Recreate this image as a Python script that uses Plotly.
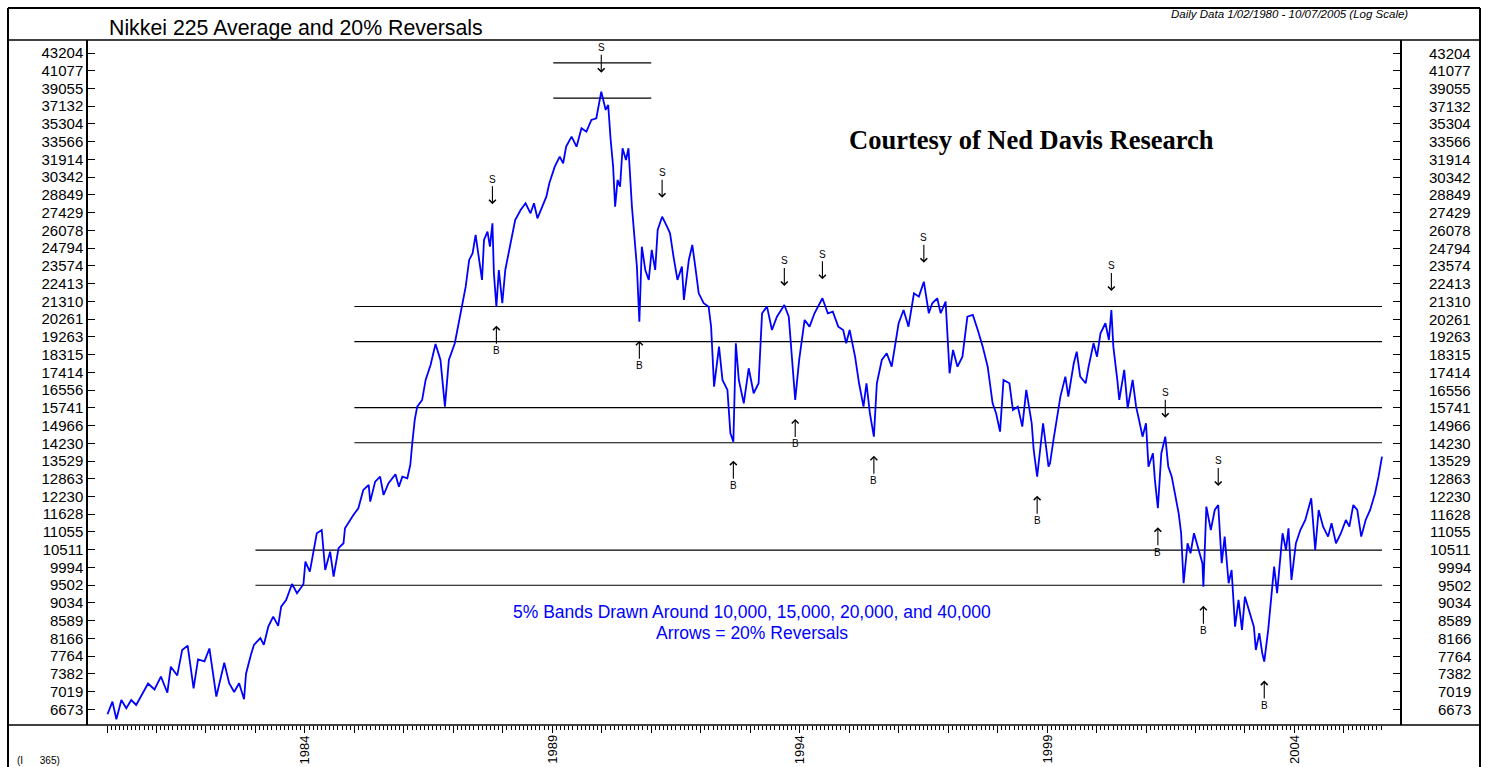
import math
import plotly.graph_objects as go

W, H = 1488, 767

# ---------------- data ----------------
years = [
    1980.01, 1980.11, 1980.19, 1980.29, 1980.39, 1980.49, 1980.59, 1980.73, 1980.83, 1980.96,
    1981.09, 1981.22, 1981.29, 1981.42, 1981.52, 1981.63, 1981.75, 1981.84, 1981.97,
    1982.07, 1982.21, 1982.37, 1982.47, 1982.57, 1982.67, 1982.77, 1982.81, 1982.91, 1982.97,
    1983.10, 1983.17, 1983.26, 1983.36, 1983.46, 1983.52, 1983.62, 1983.74, 1983.84, 1983.97,
    1984.01, 1984.10, 1984.24, 1984.34, 1984.41, 1984.51, 1984.58, 1984.68, 1984.78, 1984.81, 1984.98,
    1985.08, 1985.18, 1985.29, 1985.32, 1985.42, 1985.52, 1985.59, 1985.69, 1985.83, 1985.90, 1985.97,
    1986.07, 1986.13, 1986.17, 1986.22, 1986.27, 1986.37, 1986.44, 1986.54, 1986.64, 1986.74, 1986.83, 1986.91,
    1987.03, 1987.11, 1987.18, 1987.25, 1987.32, 1987.39, 1987.45, 1987.52, 1987.58, 1987.62, 1987.69,
    1987.74, 1987.79, 1987.82, 1987.87, 1987.92, 1987.99,
    1988.05, 1988.12, 1988.19, 1988.25, 1988.36, 1988.46, 1988.56, 1988.63, 1988.70, 1988.80, 1988.88, 1988.94,
    1989.05, 1989.15, 1989.22, 1989.28, 1989.39, 1989.49, 1989.59, 1989.69, 1989.79, 1989.89, 1989.95, 1989.99,
    1990.08, 1990.13, 1990.18, 1990.23, 1990.27, 1990.32, 1990.37, 1990.42, 1990.49, 1990.54, 1990.61,
    1990.65, 1990.71, 1990.76, 1990.81, 1990.88, 1990.95,
    1991.01, 1991.08, 1991.13, 1991.22, 1991.32, 1991.38, 1991.45, 1991.53, 1991.62, 1991.66, 1991.76,
    1991.83, 1991.89, 1991.96,
    1992.06, 1992.16, 1992.21, 1992.27, 1992.37, 1992.44, 1992.54, 1992.60, 1992.66, 1992.71, 1992.77,
    1992.87, 1992.97,
    1993.07, 1993.17, 1993.24, 1993.34, 1993.44, 1993.54, 1993.69, 1993.78, 1993.84, 1993.91, 1993.99,
    1994.10, 1994.20, 1994.30, 1994.46, 1994.57, 1994.67, 1994.78, 1994.88, 1994.94,
    1995.01, 1995.12, 1995.20, 1995.29, 1995.35, 1995.42, 1995.50, 1995.56, 1995.66, 1995.76, 1995.86, 1995.93,
    1996.00, 1996.10, 1996.20, 1996.31, 1996.41, 1996.51, 1996.61, 1996.68, 1996.78, 1996.85, 1996.95,
    1997.03, 1997.10, 1997.19, 1997.29, 1997.39, 1997.50, 1997.60, 1997.70, 1997.80, 1997.90, 1997.97,
    1998.05, 1998.12, 1998.24, 1998.31, 1998.41, 1998.50, 1998.58, 1998.69, 1998.73, 1998.80, 1998.92,
    1999.03, 1999.06, 1999.13, 1999.23, 1999.27, 1999.37, 1999.43, 1999.54, 1999.60, 1999.67, 1999.78,
    1999.84, 1999.94,
    2000.01, 2000.08, 2000.18, 2000.25, 2000.30, 2000.34, 2000.42, 2000.46, 2000.56, 2000.63, 2000.73,
    2000.80, 2000.86, 2000.93,
    2001.00, 2001.05, 2001.14, 2001.18, 2001.24, 2001.31, 2001.39, 2001.45, 2001.52, 2001.59, 2001.66,
    2001.71, 2001.76, 2001.84, 2001.90, 2001.97,
    2002.05, 2002.14, 2002.16, 2002.22, 2002.31, 2002.39, 2002.46, 2002.53, 2002.59, 2002.67, 2002.73,
    2002.80, 2002.87, 2002.94,
    2003.00, 2003.11, 2003.18, 2003.22, 2003.29, 2003.35, 2003.39, 2003.47, 2003.52, 2003.59, 2003.65,
    2003.76, 2003.83, 2003.88, 2003.94,
    2004.03, 2004.12, 2004.22, 2004.34, 2004.42, 2004.49, 2004.58, 2004.68, 2004.75, 2004.84, 2004.94,
    2005.04, 2005.11, 2005.19, 2005.27, 2005.35, 2005.44, 2005.53, 2005.63, 2005.70, 2005.77,
]

nikkei = [
    6580, 6821, 6488, 6853, 6694, 6853, 6757, 6996, 7182, 7062,
    7324, 6996, 7535, 7349, 7902, 8000, 7082, 7692, 7650,
    7935, 6920, 7619, 7188, 7012, 7188, 6868, 7384, 7800, 8017,
    8173, 8017, 8443, 8688, 8461, 8939, 9110, 9535, 9286, 9527,
    10159, 9875, 11015, 11117, 9922, 10453, 9735, 10555, 10706, 11172, 11604,
    11827, 12459, 12637, 12051, 12757, 12940, 12282, 12699, 13029, 12577, 12940,
    12880, 13377, 14231, 15205, 15792, 16096, 17039, 17782, 18876, 18036, 15792, 18036,
    18914, 20022, 21195, 22221, 23974, 24436, 25741, 24200, 22649, 25377, 25984,
    24898, 26614, 23084, 20991, 23301, 21195,
    23301, 24436, 25618, 26860, 27636, 28169, 27378, 28169, 26990, 27898, 28706, 29823,
    31265, 32168, 31569, 33096, 34053, 33096, 34876, 34539, 35709, 35881, 37618, 38703,
    36738, 37265, 33733, 31265, 27898, 30104, 29535, 32944, 31864, 32944, 27898,
    25867, 23521, 20113, 24898, 23301, 22649,
    24667, 23301, 26111, 27115, 26356, 25867, 24200, 22649, 23521, 21394, 23974,
    25022, 23521, 21805,
    21195, 20991, 19830, 16717, 18733, 17039, 16560, 14641, 14295, 18914, 17039,
    15945, 17615,
    16405, 16879, 20600, 20991, 19643, 20401, 21092, 20401, 18383, 16096, 18036,
    20210, 19830, 20600, 21498, 20600, 20694, 19830, 19643, 18914,
    19643, 18207, 16879, 15792, 16879, 15497, 14499, 16879, 18036, 18383, 17695, 18914,
    20022, 20794, 19830, 21805, 21597, 22536, 20600, 21195, 21498, 20600, 21291,
    17367, 18557, 17695, 18207, 20401, 20501, 19643, 18733, 17695, 15945, 15497,
    14708, 17039, 16879, 15644, 15792, 14919, 16560, 15064, 13961, 12940, 15064,
    13314, 13442, 14364, 15644, 16248, 17200, 16248, 17868, 18467, 17200, 16879,
    17695, 18914,
    18207, 19461, 20022, 19092, 20794, 18733, 17039, 16096, 17531, 15720, 17039,
    15792, 15205, 14499,
    15064, 13314, 13831, 12820, 11827, 13831, 14499, 13314, 12940, 12343, 11660,
    11015, 9554, 10706, 10405, 11015,
    10602, 10114, 9461, 11881, 11117, 11769, 11938, 10114, 10909, 9554, 9922,
    8443, 9110, 8365,
    9196, 8688, 8443, 7902, 8287, 7828, 7644, 8365, 9110, 10016, 9286,
    11015, 10503, 11172, 9644,
    10706, 11117, 11440, 12168, 10503, 11769, 11223, 10909, 11332, 10706, 11015,
    11440, 11223, 11938, 11769, 10909, 11440, 11769, 12343, 12940, 13698,
]

tick_values = [43204, 41077, 39055, 37132, 35304, 33566, 31914, 30342, 28849, 27429,
               26078, 24794, 23574, 22413, 21310, 20261, 19263, 18315, 17414, 16556,
               15741, 14966, 14230, 13529, 12863, 12230, 11628, 11055, 10511, 9994,
               9502, 9034, 8589, 8166, 7764, 7382, 7019, 6673]
year_labels = [1984, 1989, 1994, 1999, 2004]

sell_dates = [1987.79, 1989.99, 1991.22, 1993.69, 1994.46, 1996.51, 2000.30, 2001.39, 2002.46]
sell_prices = [26614, 38703, 27115, 21092, 21498, 22536, 20794, 14499, 11938]
buy_dates = [1987.87, 1990.76, 1992.66, 1993.91, 1995.50, 1998.80, 2001.24, 2002.16, 2003.39]
buy_prices = [20991, 20113, 14295, 16096, 14499, 12940, 11827, 9461, 7644]

band_centers = [10000, 15000, 20000, 40000]
band_pct = 0.05
band_start = [1983.0, 1985.0, 1985.0, 1989.02]
band_end = [2005.77, 2005.77, 2005.77, 1991.0]

# ---------------- layout geometry (pixels) ----------------
PL, PR, PT, PB = 88, 1400, 40, 725          # plot frame
DX0, DX1 = 107, 1382                        # first / last data x pixel
T0, T1 = 1980.0, 2005.77
ppy = (DX1 - DX0) / (T1 - T0)
x_range = [T0 - (DX0 - PL) / ppy, T1 + (PR - DX1) / ppy]
y_range = [3.80498, 4.6516]


def px(x):
    return x / W


def py(y):
    return 1 - y / H


FONT = "Liberation Sans, Arial, sans-serif"
TICK_SIZE = 15

fig = go.Figure()

for c, s, e in zip(band_centers, band_start, band_end):
    for lvl in (c * (1 - band_pct), c * (1 + band_pct)):
        fig.add_trace(go.Scatter(x=[s, e], y=[lvl, lvl], mode="lines",
                                 line=dict(color="black", width=1.2),
                                 hoverinfo="skip", showlegend=False))

fig.add_trace(go.Scatter(x=years, y=nikkei, mode="lines",
                         line=dict(color="#0000FF", width=1.8),
                         hoverinfo="skip", showlegend=False))

annotations = []
# reversal arrows (log axis -> annotation y in log10 units)
for d, p in zip(sell_dates, sell_prices):
    annotations.append(dict(x=d, y=math.log10(p), xref="x", yref="y", text="S", showarrow=True,
                            arrowhead=4, arrowsize=1.2, arrowwidth=1.1, arrowcolor="black",
                            ax=0, ay=-44, standoff=19,
                            font=dict(family=FONT, size=10, color="black")))
for d, p in zip(buy_dates, buy_prices):
    annotations.append(dict(x=d, y=math.log10(p), xref="x", yref="y", text="B", showarrow=True,
                            arrowhead=4, arrowsize=1.2, arrowwidth=1.1, arrowcolor="black",
                            ax=0, ay=44, standoff=19,
                            font=dict(family=FONT, size=10, color="black")))

# right-hand tick labels (right aligned)
for v in tick_values:
    annotations.append(dict(x=px(1473), y=math.log10(v), xref="paper", yref="y",
                            text=str(v), showarrow=False, xanchor="right", yanchor="middle",
                            font=dict(family=FONT, size=TICK_SIZE, color="black")))

# rotated year labels
for yr in year_labels:
    annotations.append(dict(x=yr, y=py(733), xref="x", yref="paper", text=str(yr),
                            showarrow=False, textangle=-90, xanchor="center", yanchor="top",
                            font=dict(family=FONT, size=13, color="black")))

annotations += [
    dict(x=px(107), y=py(28), xref="paper", yref="paper", xanchor="left", yanchor="middle",
         text="Nikkei 225 Average and 20% Reversals", showarrow=False,
         font=dict(family=FONT, size=21.3, color="black")),
    dict(x=px(1410), y=py(14), xref="paper", yref="paper", xanchor="right", yanchor="middle",
         text="<i>Daily Data 1/02/1980 - 10/07/2005 (Log Scale)</i>", showarrow=False,
         font=dict(family=FONT, size=11.5, color="black")),
    dict(x=px(1031), y=py(140), xref="paper", yref="paper", xanchor="center", yanchor="middle",
         text="<b>Courtesy of Ned Davis Research</b>", showarrow=False,
         font=dict(family="Liberation Serif, Times New Roman, serif", size=26.5, color="black")),
    dict(x=px(752), y=py(612), xref="paper", yref="paper", xanchor="center", yanchor="middle",
         text="5% Bands Drawn Around 10,000, 15,000, 20,000, and 40,000", showarrow=False,
         borderpad=0, font=dict(family=FONT, size=17.5, color="#0000FF")),
    dict(x=px(752), y=py(633), xref="paper", yref="paper", xanchor="center", yanchor="middle",
         text="Arrows = 20% Reversals", showarrow=False,
         borderpad=0, font=dict(family=FONT, size=17.5, color="#0000FF")),
    dict(x=px(15), y=py(760), xref="paper", yref="paper", xanchor="left", yanchor="middle",
         text="(I\u00a0\u00a0\u00a0\u00a0\u00a0\u00a0365)", showarrow=False,
         font=dict(family=FONT, size=10, color="black")),
]

shapes = []


def hline(y, x0, x1, w):
    shapes.append(dict(type="line", xref="paper", yref="paper", x0=px(x0), x1=px(x1),
                       y0=py(y), y1=py(y), line=dict(color="black", width=w)))


def vline(x, y0, y1, w):
    shapes.append(dict(type="line", xref="paper", yref="paper", x0=px(x), x1=px(x),
                       y0=py(y0), y1=py(y1), line=dict(color="black", width=w)))


hline(8, 8, 1480, 2)
hline(40, 8, 1480, 1.5)
hline(725, 8, 1480, 1.5)
vline(8, 8, 800, 2)
vline(1480, 8, 800, 2)

fig.update_layout(
    width=W, height=H, autosize=False,
    margin=dict(l=0, r=0, t=0, b=0),
    paper_bgcolor="white", plot_bgcolor="white",
    showlegend=False,
    xaxis=dict(domain=[px(PL), px(PR)], range=x_range, showgrid=False, zeroline=False,
               showline=False, ticks="outside", tickmode="array",
               tickvals=list(range(1980, 2006)), ticklen=7, tickwidth=1.2, tickcolor="black",
               showticklabels=False, fixedrange=True,
               minor=dict(tickmode="array",
                          tickvals=[1980 + m / 12 for m in range(310) if m % 12],
                          ticks="outside", ticklen=4, tickwidth=1, tickcolor="black")),
    yaxis=dict(type="log", domain=[py(PB), py(PT)], range=y_range, tickmode="array",
               tickvals=tick_values, ticktext=[str(v) for v in tick_values],
               ticks="inside", ticklen=7, tickwidth=1.2, tickcolor="black",
               mirror="ticks", showline=True, linecolor="black", linewidth=1.5,
               showgrid=False, zeroline=False, fixedrange=True,
               tickfont=dict(family=FONT, size=TICK_SIZE, color="black")),
    annotations=annotations,
    shapes=shapes,
)

fig.write_html("out.html")
